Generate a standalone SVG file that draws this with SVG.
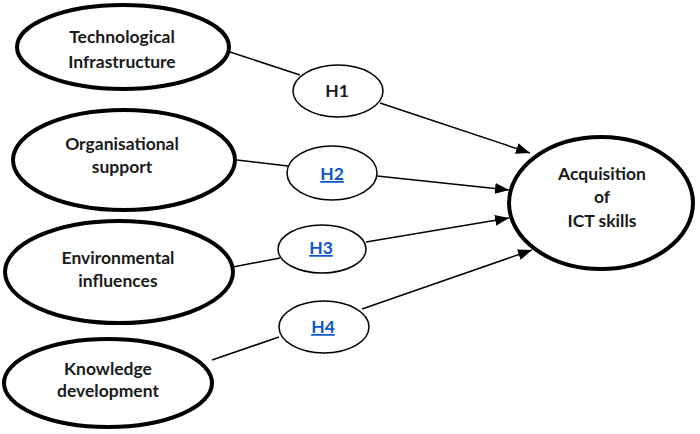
<svg xmlns="http://www.w3.org/2000/svg" width="700" height="434" viewBox="0 0 700 434">
<style>
.big{fill:#fff;stroke:#000;stroke-width:4}
.hyp{fill:#fff;stroke:#000;stroke-width:1.5}
.t{font-family:Lato,"Liberation Sans",sans-serif;font-weight:bold;font-size:17.5px;fill:#1a1a1a;text-anchor:middle}
.link{fill:#0B57C8;text-decoration:underline}
.c{stroke:#000;stroke-width:1.5;fill:none}
</style>
<defs>
<marker id="arr" viewBox="0 0 14 11" refX="14" refY="5.5" markerWidth="14" markerHeight="11" markerUnits="userSpaceOnUse" orient="auto">
<path d="M0,0 L14,5.5 L0,11 z" fill="#000"/>
</marker>
</defs>
<rect width="700" height="434" fill="#fff"/>
<g id="connectors">
<line class="c" x1="230" y1="52" x2="300" y2="75"/>
<line class="c" x1="237" y1="160" x2="288" y2="166"/>
<line class="c" x1="233" y1="267" x2="280" y2="258"/>
<line class="c" x1="212" y1="360" x2="279" y2="337"/>
<line class="c" x1="380" y1="103" x2="530" y2="153" marker-end="url(#arr)"/>
<line class="c" x1="377" y1="176" x2="509" y2="190" marker-end="url(#arr)"/>
<line class="c" x1="366" y1="242" x2="509" y2="218" marker-end="url(#arr)"/>
<line class="c" x1="362" y1="309" x2="532" y2="250" marker-end="url(#arr)"/>
</g>
<g id="n-tech">
<ellipse class="big" cx="123" cy="47" rx="106" ry="42"/>
<text class="t" x="122" y="43">Technological</text>
<text class="t" x="122" y="68">Infrastructure</text>
</g>
<g id="n-org">
<ellipse class="big" cx="124" cy="160" rx="111" ry="50"/>
<text class="t" x="122" y="150">Organisational</text>
<text class="t" x="122" y="173">support</text>
</g>
<g id="n-env">
<ellipse class="big" cx="119" cy="272" rx="114" ry="51"/>
<text class="t" x="118" y="264">Environmental</text>
<text class="t" x="118" y="287">influences</text>
</g>
<g id="n-know">
<ellipse class="big" cx="108" cy="383" rx="104" ry="44"/>
<text class="t" x="108" y="375">Knowledge</text>
<text class="t" x="108" y="397">development</text>
</g>
<g id="n-h1">
<ellipse class="hyp" cx="338" cy="91" rx="45" ry="26"/>
<text class="t" x="337" y="97">H1</text>
</g>
<g id="n-h2">
<ellipse class="hyp" cx="332" cy="173" rx="45" ry="27"/>
<text class="t link" x="332" y="180">H2</text>
</g>
<g id="n-h3">
<ellipse class="hyp" cx="322" cy="249" rx="44" ry="24"/>
<text class="t link" x="321" y="254">H3</text>
</g>
<g id="n-h4">
<ellipse class="hyp" cx="324" cy="327" rx="45" ry="26"/>
<text class="t link" x="323" y="333">H4</text>
</g>
<g id="n-ict">
<ellipse class="big" cx="601" cy="203" rx="92" ry="66"/>
<text class="t" x="602" y="180">Acquisition</text>
<text class="t" x="602" y="203">of</text>
<text class="t" x="602" y="227">ICT skills</text>
</g>
</svg>
